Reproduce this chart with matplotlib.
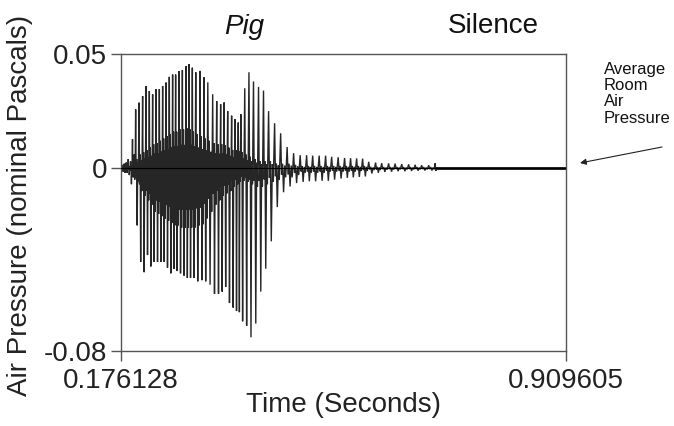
import matplotlib
matplotlib.use("Agg")
import matplotlib.pyplot as plt

plt.rcParams['font.family'] = ['Liberation Sans', 'DejaVu Sans']

# ---------------- data ----------------
x_min, x_max = 0.176128, 0.909605
y_ticks = [-0.08, 0, 0.05]
y_tick_labels = ["-0.08", "0", "0.05"]
x_ticks = [0.176128, 0.909605]
x_tick_labels = ["0.176128", "0.909605"]

# one entry per glottal cycle: start time (s), peak, trough, inner (formant) range
cycle_time = [0.1778, 0.1811, 0.1844, 0.1877, 0.1915, 0.1948, 0.1976,
              0.1997, 0.2053, 0.2112, 0.2168, 0.2223, 0.2277, 0.2333, 0.2388,
              0.2442, 0.2498, 0.2552, 0.2607, 0.2656, 0.2712, 0.2767, 0.2828,
              0.2877, 0.2932, 0.2986, 0.3059, 0.3124, 0.3184, 0.3266, 0.3332,
              0.3398, 0.3454, 0.3513, 0.3579, 0.3635, 0.3690, 0.3731, 0.3794,
              0.3863, 0.3937, 0.4020, 0.4102, 0.4184, 0.4283, 0.4382, 0.4489,
              0.4596, 0.4704, 0.4811, 0.4910, 0.5017, 0.5124, 0.5223, 0.5330,
              0.5437, 0.5536, 0.5635, 0.5734, 0.5833, 0.5948, 0.6047, 0.6162,
              0.6269, 0.6377, 0.6492, 0.6599, 0.6706, 0.6822, 0.6937]
cycle_top = [0.0015, 0.002, 0.0025, 0.004, 0.003, 0.0127, 0.006,
             0.0258, 0.0287, 0.0316, 0.036, 0.0338, 0.0324, 0.0346, 0.0346,
             0.036, 0.0375, 0.040, 0.041, 0.041, 0.0425, 0.043, 0.0447,
             0.0455, 0.044, 0.042, 0.0426, 0.0398, 0.0376, 0.0324, 0.0294,
             0.028, 0.0288, 0.025, 0.023, 0.0215, 0.020, 0.0236, 0.035,
             0.042, 0.038, 0.0356, 0.034, 0.025, 0.0197, 0.0153, 0.0093,
             0.0066, 0.0057, 0.0057, 0.0055, 0.0055, 0.0055, 0.0050, 0.0048,
             0.0045, 0.0044, 0.0043, 0.0042, 0.0028, 0.0025, 0.0022, 0.0021,
             0.0020, 0.0018, 0.0017, 0.0015, 0.0013, 0.0013, 0.0022]
cycle_bottom = [-0.0015, -0.002, -0.002, -0.003, -0.007, -0.004, -0.005,
                -0.025, -0.041, -0.0455, -0.038, -0.043, -0.041, -0.041, -0.041,
                -0.041, -0.0435, -0.046, -0.044, -0.045, -0.046, -0.047, -0.048,
                -0.048, -0.048, -0.0495, -0.049, -0.0495, -0.051, -0.055, -0.055,
                -0.054, -0.052, -0.059, -0.061, -0.0625, -0.063, -0.067, -0.069,
                -0.074, -0.068, -0.054, -0.044, -0.032, -0.017, -0.0105, -0.008,
                -0.0065, -0.006, -0.0057, -0.0057, -0.0055, -0.0055, -0.0050, -0.0045,
                -0.0042, -0.0040, -0.0038, -0.0036, -0.0023, -0.0020, -0.0016, -0.0015,
                -0.0013, -0.0013, -0.0012, -0.0011, -0.0010, -0.0010, -0.0012]
inner_top = [0.0005, 0.0005, 0.0005, 0.001, 0.001, 0.002, 0.002,
             0.004, 0.006, 0.007, 0.008, 0.009, 0.0105, 0.011, 0.012,
             0.013, 0.014, 0.015, 0.016, 0.016, 0.017, 0.017, 0.0175,
             0.017, 0.016, 0.015, 0.014, 0.013, 0.012, 0.011, 0.0105,
             0.0105, 0.010, 0.009, 0.008, 0.008, 0.0075, 0.007, 0.006,
             0.005, 0.004, 0.003, 0.003, 0.003, 0.002, 0.002, 0.002,
             0.0015, 0.001, 0.001, 0.001, 0.001, 0.001, 0.001, 0.001,
             0.001, 0.001, 0.001, 0.001, 0.0006, 0.0006, 0.0005, 0.0005,
             0.0005, 0.0005, 0.0005, 0.0005, 0.0005, 0.0005, 0.0005]
inner_bottom = [-0.0005, -0.0005, -0.0005, -0.001, -0.001, -0.002, -0.002,
                -0.006, -0.010, -0.012, -0.014, -0.016, -0.019, -0.020, -0.021,
                -0.022, -0.023, -0.024, -0.025, -0.025, -0.026, -0.026, -0.026,
                -0.026, -0.026, -0.025, -0.0245, -0.022, -0.019, -0.016, -0.014,
                -0.012, -0.011, -0.010, -0.008, -0.007, -0.006, -0.0055, -0.006,
                -0.007, -0.008, -0.008, -0.007, -0.006, -0.005, -0.004, -0.004,
                -0.003, -0.002, -0.002, -0.002, -0.002, -0.0015, -0.0015, -0.0015,
                -0.0015, -0.0015, -0.0012, -0.0012, -0.0008, -0.0008, -0.0006, -0.0006,
                -0.0005, -0.0005, -0.0005, -0.0005, -0.0005, -0.0005, -0.0005]
tail_start = 0.6970      # silence: only a thin band of room noise remains
tail_amp = 0.0007

# ---------------- figure ----------------
W, H = 674, 426
fig = plt.figure(figsize=(W / 100, H / 100), dpi=100)
ax = fig.add_axes([121 / W, 1 - 351 / H, 445 / W, 297 / H])

# build the trace: each cycle = peak, ringing, trough, ringing
shape_pos = [0.10, 0.24, 0.40, 0.55, 0.72, 0.88]
tx, ty = [x_min], [0.0]
bounds = cycle_time + [tail_start]
for i in range(len(cycle_time)):
    t0 = bounds[i]
    p = bounds[i + 1] - t0
    vals = [cycle_top[i], inner_bottom[i] * 0.7, inner_top[i], cycle_bottom[i],
            inner_top[i] * 0.6, inner_bottom[i]]
    for f, v in zip(shape_pos, vals):
        tx.append(t0 + f * p)
        ty.append(v)
tx.append(tail_start)
ty.append(0.0)

wave_color = '#262626'
ax.plot(tx, ty, color=wave_color, lw=1.0, solid_joinstyle='miter')
ax.fill_between([tail_start, x_max], [-tail_amp, -tail_amp], [tail_amp, tail_amp],
                color=wave_color, lw=0)
ax.axhline(0, color='black', lw=0.8, zorder=3)

ax.set_xlim(x_min, x_max)
ax.set_ylim(-0.08, 0.05)
ax.set_yticks(y_ticks)
ax.set_yticklabels(y_tick_labels)
ax.set_xticks(x_ticks)
ax.set_xticklabels(x_tick_labels)
ax.tick_params(axis='both', direction='out', length=7, width=1, color='#555555',
               labelsize=20, labelcolor='#222222', pad=3)
ax.tick_params(axis='x', pad=5)
for s in ax.spines.values():
    s.set_color('#555555')
    s.set_linewidth(1.0)

fig.text(343 / W, 1 - 405 / H, "Time (Seconds)", ha='center', va='center',
         fontsize=20, color='#222222')
fig.text(20 / W, 1 - 205 / H, "Air Pressure (nominal Pascals)", ha='center',
         va='center', rotation=90, fontsize=20, color='#222222')
fig.text(244 / W, 1 - 27 / H, "Pig", ha='center', va='center', fontsize=20,
         style='italic', color='#111111')
fig.text(493 / W, 1 - 26 / H, "Silence", ha='center', va='center', fontsize=20,
         color='#111111')
fig.text(604 / W, 1 - 62 / H, "Average\nRoom\nAir\nPressure", ha='left', va='top',
         fontsize=12, linespacing=1.1, color='#111111')
ax.annotate("", xy=(580 / W, 1 - 163 / H), xycoords='figure fraction',
            xytext=(662 / W, 1 - 147 / H), textcoords='figure fraction',
            arrowprops=dict(arrowstyle='-|>', color='#222222', lw=0.8,
                            mutation_scale=9, shrinkA=0, shrinkB=0),
            annotation_clip=False)

fig.savefig("out.png", dpi=100)
